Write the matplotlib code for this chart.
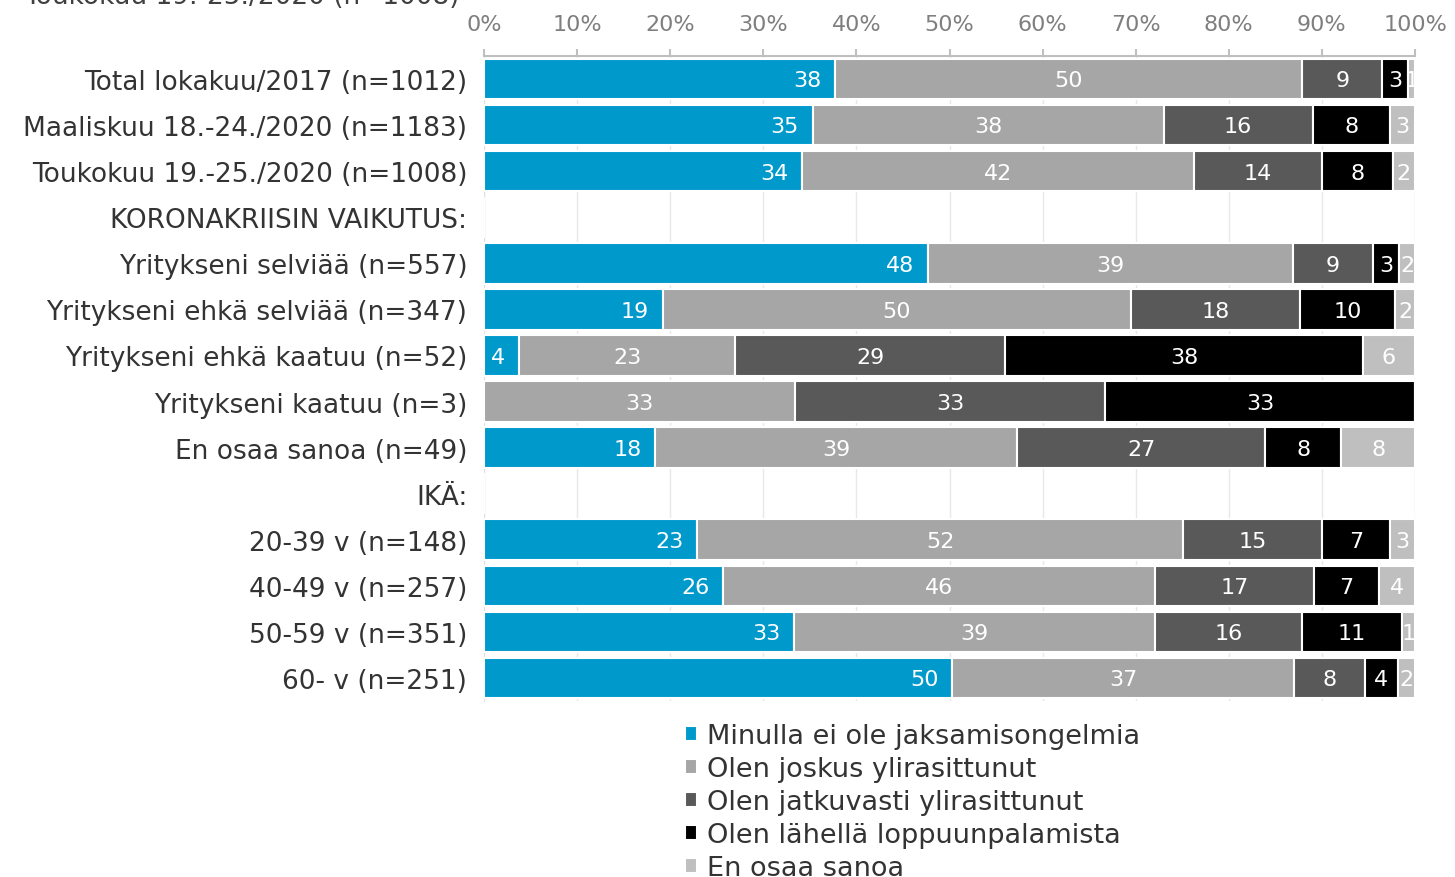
import numpy as np
import matplotlib.pyplot as plt

plt.rcParams['font.family'] = ['DejaVu Sans']

# rows, top to bottom (headers have no bars)
categories = ["Total lokakuu/2017 (n=1012)", "Maaliskuu 18.-24./2020 (n=1183)",
              "Toukokuu 19.-25./2020 (n=1008)", "KORONAKRIISIN VAIKUTUS:",
              "Yritykseni selviää (n=557)", "Yritykseni ehkä selviää (n=347)",
              "Yritykseni ehkä kaatuu (n=52)", "Yritykseni kaatuu (n=3)",
              "En osaa sanoa (n=49)", "IKÄ:",
              "20-39 v (n=148)", "40-49 v (n=257)", "50-59 v (n=351)", "60- v (n=251)"]

series = ["Minulla ei ole jaksamisongelmia", "Olen joskus ylirasittunut",
          "Olen jatkuvasti ylirasittunut", "Olen lähellä loppuunpalamista", "En osaa sanoa"]

ei_ongelmia = [37.7, 35.3, 34.2, 0, 47.7, 19.2, 3.8, 0, 18.4, 0, 22.9, 25.7, 33.3, 50.3]
joskus      = [50.2, 37.7, 42.1, 0, 39.2, 50.3, 23.2, 33.4, 38.9, 0, 52.2, 46.4, 38.8, 36.7]
jatkuvasti  = [8.6, 16.0, 13.7, 0, 8.6, 18.1, 29.0, 33.3, 26.6, 0, 14.9, 17.1, 15.8, 7.6]
lahella     = [2.8, 8.3, 7.6, 0, 2.8, 10.3, 38.4, 33.3, 8.2, 0, 7.3, 6.9, 10.7, 3.6]
en_osaa     = [0.7, 2.7, 2.4, 0, 1.7, 2.1, 5.6, 0, 7.9, 0, 2.7, 3.9, 1.4, 1.8]

colors = ["#0099CC", "#A6A6A6", "#595959", "#000000", "#BFBFBF"]

fig = plt.figure(figsize=(14.55, 8.78), dpi=100)
ax = fig.add_axes([484/1455, 1 - 702/878, 931/1455, 645/878])

y = np.arange(len(categories))
left = np.zeros(len(categories))
for k, (vals, col, name) in enumerate(zip([ei_ongelmia, joskus, jatkuvasti, lahella, en_osaa],
                                          colors, series)):
    vals = np.array(vals)
    ax.barh(y, vals, left=left, height=0.88, color=col, edgecolor="white",
            linewidth=1.5, label=name, zorder=3)
    for yi, (l, v) in enumerate(zip(left, vals)):
        if v <= 0:
            continue
        if k == 0:
            # first series: label sits at the inner end of the bar
            ax.text(l + v - 1.5, yi + 0.03, f"{v:.0f}", ha="right", va="center",
                    color="white", fontsize=16, zorder=4)
        else:
            ax.text(l + v / 2, yi + 0.03, f"{v:.0f}", ha="center", va="center",
                    color="white", fontsize=16, zorder=4, clip_on=True)
    left += vals

ax.set_xlim(0, 100)
ax.set_ylim(len(categories) - 0.5, -0.5)
ax.set_xticks(np.arange(0, 101, 10))
ax.set_xticklabels([f"{t}%" for t in range(0, 101, 10)])
ax.xaxis.tick_top()
ax.tick_params(axis="x", colors="#BFBFBF", labelcolor="#7F7F7F", labelsize=16,
               length=5, width=1.5, pad=11)
ax.set_yticks(y)
ax.set_yticklabels(categories)
ax.tick_params(axis="y", length=0, labelsize=19, labelcolor="#333333", pad=12)
ax.grid(axis="x", color="#E8E8E8", linewidth=1, zorder=0)
for s in ["right", "bottom"]:
    ax.spines[s].set_visible(False)
ax.spines["top"].set_color("#BFBFBF")
ax.spines["top"].set_linewidth(1.5)
ax.spines["left"].set_color("#E0E0E0")

# cut-off heading at the very top of the image
fig.text(460/1455, 1 - 4/878, "Toukokuu 19.-25./2020 (n=1008)", ha="right",
         va="baseline", fontsize=19, color="#404040")

fig.legend(loc="upper left", bbox_to_anchor=(666/1455, 1 - 705/878), frameon=False,
           fontsize=19.5, handlelength=0.45, handleheight=0.45, handletextpad=0.35,
           labelspacing=0.26, labelcolor="#333333", borderpad=0.2)

fig.savefig("out.png", dpi=100)
